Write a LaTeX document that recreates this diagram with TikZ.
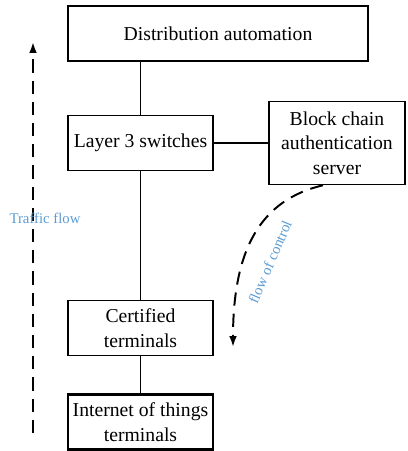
\documentclass[tikz,border=0pt]{standalone}
\usepackage{fontspec}
\setmainfont{Liberation Serif}
\usetikzlibrary{arrows.meta,positioning}
\definecolor{flowblue}{RGB}{91,155,213}

\begin{document}
\begin{tikzpicture}[x=0.025cm, y=-0.025cm,
        >=Latex, font=\fontsize{14}{17.4}\selectfont,
        blk/.style={draw, line width=1.1pt, align=center, inner sep=1pt,
            minimum height=1.375cm, minimum width=3.625cm},
        line/.style={line width=1.1pt},
        flow/.style={line width=1.4pt, dash pattern=on 0.33cm off 0.2cm,
            -{Latex[length=0.27cm, width=0.19cm]}},
        lbl/.style={text=flowblue, inner sep=0pt, font=\fontsize{10.5}{12}\selectfont}]
        \useasboundingbox (0,0) rectangle (407,451);
        \node[blk, minimum width=7.5cm] (da) at (218,33.5) {Distribution automation};
        \node[blk] (l3) at (140.5,143) {Layer 3 switches};
        \node[blk, minimum width=3.4cm, minimum height=2.075cm] (bc) at (337,143) {Block chain\\ authentication\\ server};
        \node[blk] (ct) at (140.5,328) {Certified\\ terminals};
        \node[blk, line width=1.6pt] (iot) at (140.5,422) {Internet of things\\ terminals};
        \draw[line] (da.south -| l3.north) -- (l3.north);
        \draw[line] (l3) -- (bc);
        \draw[line] (l3) -- (ct);
        \draw[line] (ct) -- (iot);
        % traffic flow
        \coordinate (tfs) at (33,433);
        \coordinate (tfe) at (33,42);
        \draw[flow] (tfs) -- (tfe);
        \node[lbl] (tf) at (45,218) {Traffic flow};
        % flow of control
        \coordinate (fcs) at ([xshift=-0.35cm]bc.south);
        \coordinate (fce) at (233,347);
        \draw[flow] (fcs) .. controls (260,200) and (233,250) .. (fce);
        \node[lbl, rotate=66.6] (fc) at (270,262) {flow of control};
    \end{tikzpicture}
\end{document}
